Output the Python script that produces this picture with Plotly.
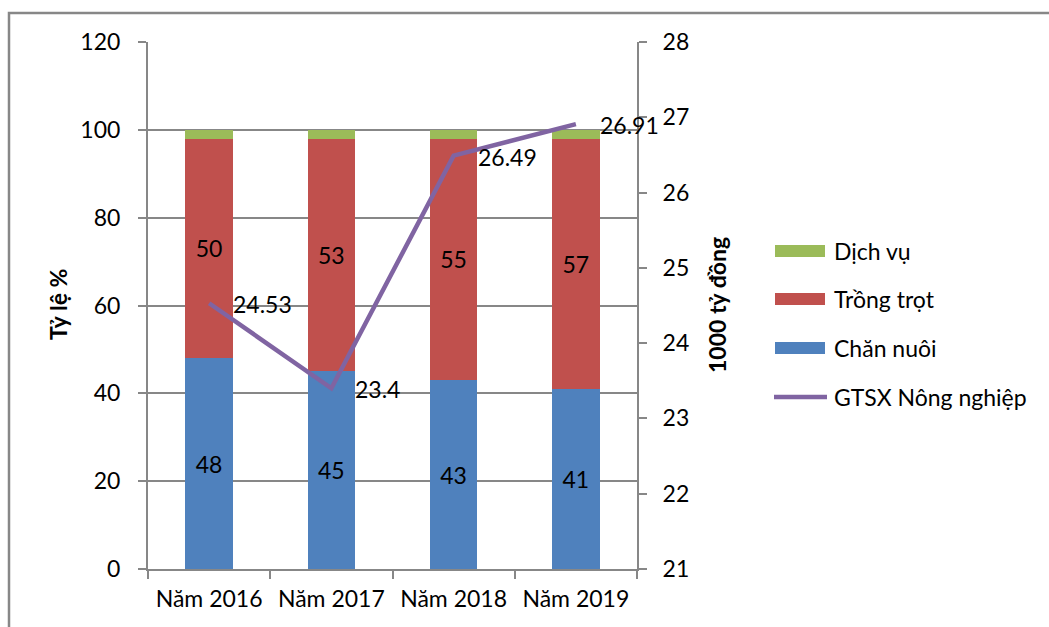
import plotly.graph_objects as go

# Data
years = ["Năm 2016", "Năm 2017", "Năm 2018", "Năm 2019"]
chan_nuoi = [48, 45, 43, 41]
trong_trot = [50, 53, 55, 57]
dich_vu = [2, 2, 2, 2]
gtsx = [24.53, 23.4, 26.49, 26.91]

left_ticks = [0, 20, 40, 60, 80, 100, 120]
right_ticks = [21, 22, 23, 24, 25, 26, 27, 28]

C_BLUE = "#4F81BD"
C_RED = "#C0504D"
C_GREEN = "#9BBB59"
C_PURPLE = "#8064A2"
C_AXIS = "#878787"
FONT = "Lato"
FS = 23

W, H = 1049, 627
ML, MR, MT, MB = 148, 412, 42, 58
PW, PH = W - ML - MR, H - MT - MB


def px(xp):
    return (xp - ML) / PW


def py(yp):
    return (H - MB - yp) / PH


fig = go.Figure()

fig.add_bar(x=years, y=chan_nuoi, name="Chăn nuôi", marker=dict(color=C_BLUE, line=dict(width=0)),
            text=[str(v) for v in chan_nuoi], textposition="inside", insidetextanchor="middle",
            textfont=dict(color="black", size=FS, family=FONT), textangle=0)
fig.add_bar(x=years, y=trong_trot, name="Trồng trọt", marker=dict(color=C_RED, line=dict(width=0)),
            text=[str(v) for v in trong_trot], textposition="inside", insidetextanchor="middle",
            textfont=dict(color="black", size=FS, family=FONT), textangle=0)
fig.add_bar(x=years, y=dich_vu, name="Dịch vụ", marker=dict(color=C_GREEN, line=dict(width=0)))
fig.add_scatter(x=years, y=gtsx, yaxis="y2", mode="lines", name="GTSX Nông nghiệp",
                line=dict(color=C_PURPLE, width=4.5))

# Value labels for the production line
for xv, yv in zip(years, gtsx):
    fig.add_annotation(x=xv, y=yv, xref="x", yref="y2", text=f"{yv:g}", showarrow=False,
                       xanchor="left", yanchor="middle", xshift=22, yshift=-1,
                       font=dict(size=FS, color="black", family=FONT))

# Axis titles
fig.add_annotation(x=px(58), y=py(305), xref="paper", yref="paper", text="<b>Tỷ lệ %</b>",
                   textangle=-90, showarrow=False, xanchor="center", yanchor="middle",
                   font=dict(size=23, color="black", family=FONT))
fig.add_annotation(x=px(717), y=py(305), xref="paper", yref="paper", text="<b>1000 tỷ đồng</b>",
                   textangle=-90, showarrow=False, xanchor="center", yanchor="middle",
                   font=dict(size=23, color="black", family=FONT))

# Legend
shapes = []
legend_items = [("Dịch vụ", C_GREEN, 251, "bar"), ("Trồng trọt", C_RED, 299, "bar"),
                ("Chăn nuôi", C_BLUE, 348, "bar"), ("GTSX Nông nghiệp", C_PURPLE, 397, "line")]
for label, col, yc, kind in legend_items:
    if kind == "bar":
        shapes.append(dict(type="rect", xref="paper", yref="paper", x0=px(775), x1=px(825),
                           y0=py(yc + 6), y1=py(yc - 6), fillcolor=col, line=dict(width=0)))
    else:
        shapes.append(dict(type="line", xref="paper", yref="paper", x0=px(774), x1=px(827),
                           y0=py(yc), y1=py(yc), line=dict(color=col, width=4.5)))
    fig.add_annotation(x=px(832), y=py(yc), xref="paper", yref="paper", text=label, showarrow=False,
                       xanchor="left", yanchor="middle", font=dict(size=FS, color="black", family=FONT))

# Chart frame
shapes.append(dict(type="rect", xref="paper", yref="paper", x0=px(9), x1=px(1070),
                   y0=py(650), y1=py(13), line=dict(color=C_AXIS, width=2.5), fillcolor="rgba(0,0,0,0)",
                   layer="below"))

fig.update_layout(
    width=W, height=H,
    margin=dict(l=ML, r=MR, t=MT, b=MB, pad=0),
    barmode="stack", bargap=0.61,
    plot_bgcolor="white", paper_bgcolor="white",
    showlegend=False,
    font=dict(family=FONT, size=FS, color="black"),
    shapes=shapes,
    xaxis=dict(range=[-0.5, 3.5], showline=True, linecolor=C_AXIS, linewidth=2, ticks="outside",
               tickson="boundaries", ticklen=8, tickwidth=2, tickcolor=C_AXIS, showgrid=False,
               tickfont=dict(size=FS, family=FONT), ticklabelstandoff=8),
    yaxis=dict(range=[0, 120], tickvals=left_ticks, showline=True, linecolor=C_AXIS, linewidth=2,
               ticks="outside", ticklen=8, tickwidth=2, tickcolor=C_AXIS,
               showgrid=True, gridcolor=C_AXIS, gridwidth=2, zeroline=False,
               tickfont=dict(size=FS, family=FONT), ticklabelstandoff=13),
    yaxis2=dict(range=[21, 28], tickvals=right_ticks, overlaying="y", side="right",
                showline=True, linecolor=C_AXIS, linewidth=2, ticks="outside", ticklen=8,
                tickwidth=2, tickcolor=C_AXIS, showgrid=False, zeroline=False,
                tickfont=dict(size=FS, family=FONT), ticklabelstandoff=11),
)

fig.write_html("out.html")
